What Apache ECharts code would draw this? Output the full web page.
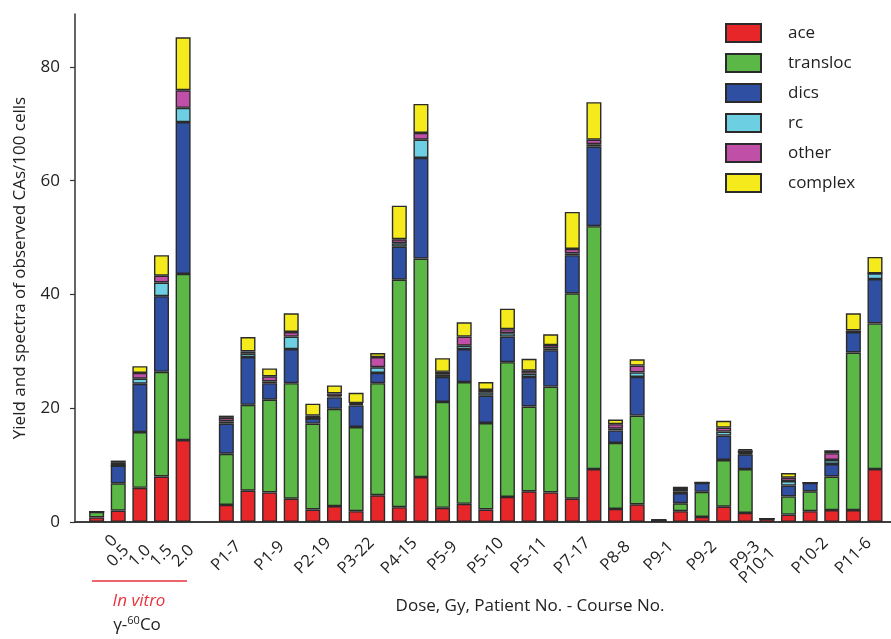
<!DOCTYPE html>
<html>
<head>
<meta charset="utf-8">
<script src="https://cdn.jsdelivr.net/npm/echarts@6/dist/echarts.min.js"></script>
<style>html,body{margin:0;padding:0;background:#fff;}#c{width:891px;height:639px;}</style>
</head>
<body>
<div id="c"></div>
<script>
// ---- Data ----
var categories = ['', '0', '0.5', '1.0', '1.5', '2.0', '',
  'P1-7', '', 'P1-9', '', 'P2-19', '', 'P3-22', '', 'P4-15', '', 'P5-9', '', 'P5-10', '',
  'P5-11', '', 'P7-17', '', 'P8-8', '', 'P9-1', '', 'P9-2', '', 'P9-3', 'P10-1', '',
  'P10-2', '', 'P11-6', ''];

var ace = [null, 0.8, 2.0, 6.0, 8.0, 14.4, null,
  3.0, 5.5, 5.2, 4.1, 2.2, 2.8, 1.9, 4.7, 2.6, 7.9, 2.5, 3.2, 2.2, 4.4, 5.4, 5.2, 4.1, 9.3,
  2.3, 3.1, 0.3, 1.9, 0.9, 2.7, 1.6, 0.6, 1.3, 1.9, 2.1, 2.1, 9.3];
var transloc = [null, 1.0, 4.8, 9.8, 18.4, 29.2, null,
  9.0, 15.1, 16.3, 20.3, 15.1, 17.1, 14.8, 19.7, 40.0, 38.4, 18.6, 21.4, 15.2, 23.7, 14.9, 18.6, 36.1, 42.7,
  11.6, 15.6, 0, 1.4, 4.4, 8.2, 7.7, 0, 3.2, 3.5, 5.9, 27.7, 25.6];
var dics = [null, 0, 3.1, 8.5, 13.3, 26.7, null,
  5.3, 8.4, 2.9, 6.0, 0.9, 2.0, 3.8, 1.8, 5.8, 17.7, 4.4, 5.8, 4.8, 4.5, 5.2, 6.4, 6.7, 14.0,
  2.2, 6.8, 0, 1.8, 1.6, 4.3, 2.6, 0, 1.9, 1.5, 2.2, 3.6, 7.8];
var rc = [null, 0, 0, 0.9, 2.4, 2.5, null,
  0.4, 0.6, 0.3, 2.2, 0, 0.2, 0.2, 1.0, 0.6, 3.2, 0.4, 0.6, 0.6, 0.6, 0.6, 0.3, 0.3, 0.4,
  0.3, 0.8, 0, 0.3, 0, 0.7, 0.2, 0, 0.8, 0, 0.7, 0, 1.0];
var other = [null, 0, 0.5, 1.0, 1.2, 3.1, null,
  0.6, 0.4, 0.9, 0.8, 0.5, 0.5, 0.2, 1.8, 0.7, 1.2, 0.5, 1.6, 0.4, 0.7, 0.5, 0.6, 0.8, 0.8,
  0.8, 1.2, 0, 0.4, 0, 0.7, 0.5, 0, 0.6, 0, 1.2, 0.3, 0];
var complex = [null, 0, 0.4, 1.2, 3.6, 9.3, null,
  0.4, 2.5, 1.4, 3.3, 2.1, 1.4, 1.8, 0.7, 5.9, 5.1, 2.4, 2.5, 1.4, 3.6, 2.1, 1.9, 6.5, 6.6,
  0.8, 1.1, 0, 0.4, 0.1, 1.2, 0.2, 0, 0.8, 0, 0.5, 3.0, 2.9];

var yTicks = [0, 20, 40, 60, 80];
var seriesNames = ['ace', 'transloc', 'dics', 'rc', 'other', 'complex'];
var seriesColors = ['#e62628', '#5cb846', '#2f4fa3', '#6dd0e2', '#c04fa8', '#f5eb1c'];
var seriesData = [ace, transloc, dics, rc, other, complex];

var FONT = '"Open Sans", "Noto Sans", sans-serif';
var chart = echarts.init(document.getElementById('c'), null, {renderer: 'canvas'});

var series = seriesNames.map(function (n, i) {
  return {
    name: n, type: 'bar', stack: 'all', barWidth: 15,
    xAxisIndex: 0, yAxisIndex: 0,
    itemStyle: {color: seriesColors[i], borderColor: '#2b2b2b', borderWidth: 1.4},
    emphasis: {disabled: true},
    data: seriesData[i]
  };
});

var lblBase = {fontSize: 16.5, color: '#222', fontFamily: FONT};

chart.setOption({
  animation: false,
  textStyle: {fontFamily: FONT},
  grid: [
    {left: 75, right: 16, top: 14, bottom: 117},
    {left: 75, right: 0, top: 14, bottom: 117}
  ],
  legend: {
    orient: 'vertical', left: 725, top: 23, padding: 0,
    icon: 'rect',
    itemWidth: 35, itemHeight: 18, itemGap: 10,
    textStyle: {fontSize: 17, color: '#222', fontFamily: FONT, padding: [0, 0, 0, 22]},
    data: seriesNames
  },
  xAxis: [
    {
      type: 'category', gridIndex: 0, data: categories, boundaryGap: false,
      axisLine: {show: false}, axisTick: {show: false},
      axisLabel: {
        interval: 0, rotate: 45, fontSize: 16.5, color: '#222', margin: 34,
        align: 'center', verticalAlign: 'middle', fontFamily: FONT,
        formatter: function (v) {
          if (v === '0') return '{z|0}';
          if (v === 'P10-1') return '{w|P10-1}';
          return v ? '{n|' + v + '}' : '';
        },
        rich: {
          n: lblBase,
          z: Object.assign({padding: [0, 0, 0, 42]}, lblBase),
          w: Object.assign({padding: [0, 27, 0, 0]}, lblBase)
        }
      }
    },
    {
      type: 'value', gridIndex: 1, position: 'top', min: 0, max: 1,
      axisLine: {show: true, lineStyle: {color: '#333', width: 1.5}},
      axisTick: {show: false}, axisLabel: {show: false}, splitLine: {show: false}
    },
    {
      type: 'value', gridIndex: 1, position: 'bottom', min: 0, max: 1,
      axisLine: {show: true, lineStyle: {color: '#333', width: 1.5}},
      axisTick: {show: false}, axisLabel: {show: false}, splitLine: {show: false}
    }
  ],
  yAxis: [
    {
      type: 'value', gridIndex: 0, min: 0, max: 89.3, interval: 20,
      name: 'Yield and spectra of observed CAs/100 cells',
      nameLocation: 'middle', nameGap: 46,
      nameTextStyle: {fontSize: 17, color: '#222', fontFamily: FONT},
      axisLine: {show: true, lineStyle: {color: '#333', width: 1.5}},
      axisTick: {show: true, inside: false, length: 5, lineStyle: {color: '#333', width: 1.2}, customValues: yTicks},
      axisLabel: {fontSize: 17, color: '#222', margin: 15, fontFamily: FONT, customValues: yTicks},
      splitLine: {show: false}
    },
    {type: 'value', gridIndex: 1, show: false, min: 0, max: 1}
  ],
  graphic: [
    {type: 'line', shape: {x1: 92, y1: 581, x2: 187, y2: 581}, style: {stroke: '#e8323c', lineWidth: 1.5}},
    {type: 'text', x: 139, y: 601, style: {text: 'In vitro', fill: '#e8323c', fontSize: 17, fontStyle: 'italic', fontFamily: FONT, align: 'center', verticalAlign: 'middle'}},
    {type: 'text', x: 137, y: 625, style: {
      text: '{n|γ-}{s|60}{n|Co}', align: 'center', verticalAlign: 'middle',
      rich: {
        n: {fontSize: 17, fill: '#222', fontFamily: FONT},
        s: {fontSize: 11, fill: '#222', fontFamily: FONT, verticalAlign: 'top', padding: [0, 0, 8, 0]}
      }
    }},
    {type: 'text', x: 530, y: 606, style: {text: 'Dose, Gy, Patient No. - Course No.', fill: '#222', fontSize: 17, fontFamily: FONT, align: 'center', verticalAlign: 'middle'}}
  ],
  series: series
});
</script>
</body>
</html>
